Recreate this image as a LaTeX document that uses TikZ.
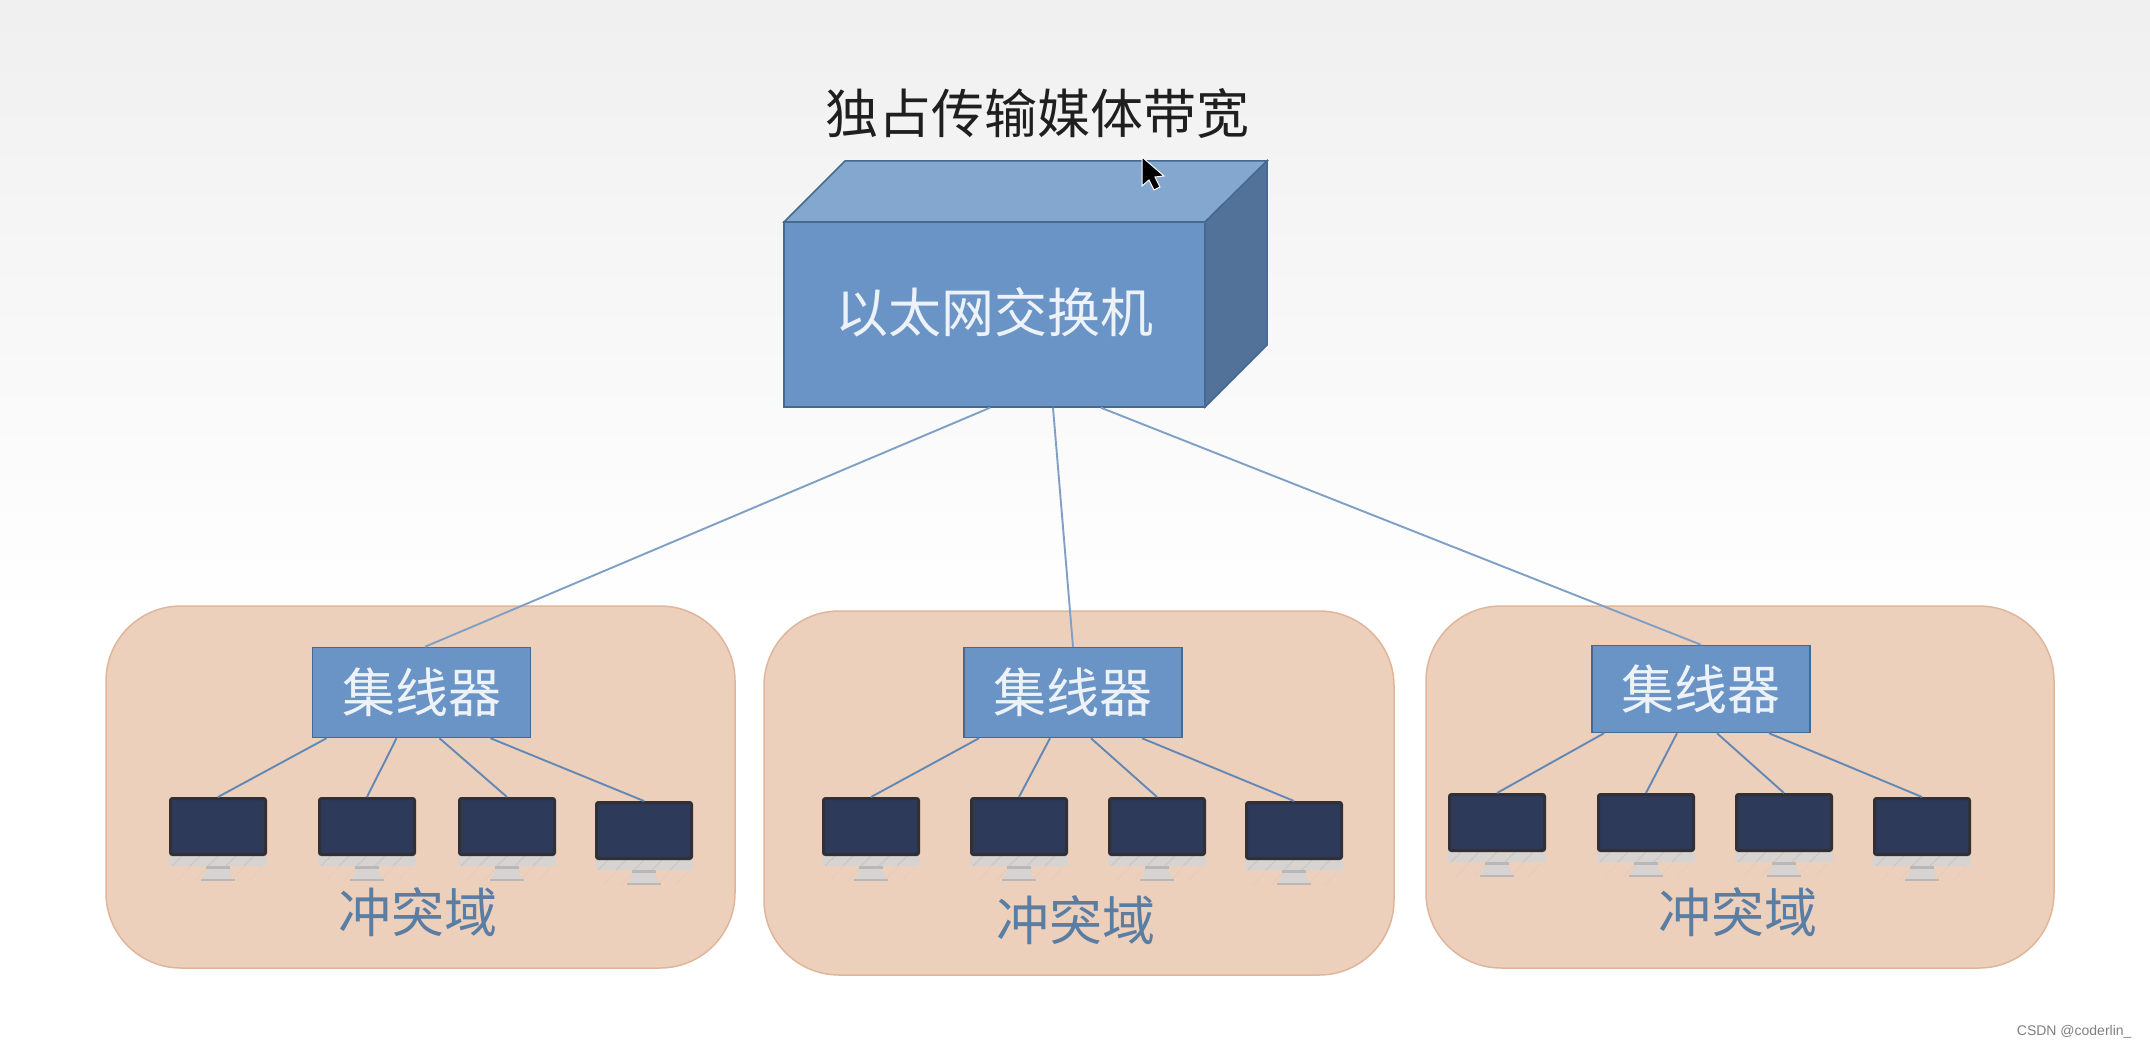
\documentclass[tikz,border=0pt]{standalone}
\usepackage{fontspec}
\newfontfamily\cjk{Noto Sans CJK SC}
\setsansfont{Liberation Sans}
\usepackage{tikz}

\definecolor{boxfront}{HTML}{6A94C6}
\definecolor{boxtop}{HTML}{84A7D0}
\definecolor{boxside}{HTML}{53729A}
\definecolor{boxline}{HTML}{46698F}
\definecolor{linkline}{HTML}{7F9FC6}
\definecolor{domfill}{HTML}{EDD0BC}
\definecolor{domline}{HTML}{DFB69A}
\definecolor{domtext}{HTML}{5A7DA3}
\definecolor{screenfill}{HTML}{2D3A5A}
\definecolor{screenline}{HTML}{303036}
\definecolor{chinfill}{HTML}{D6D3D1}
\definecolor{chinline}{HTML}{C8C5C3}

\tikzset{
	cntext/.style={font=\cjk\fontsize{53}{53}\selectfont},
	dombox/.style={draw=domline, line width=1.5pt, fill=domfill, rounded corners=75pt, minimum width=629pt, minimum height=362pt, inner sep=0pt},
	hubbox/.style={draw=boxline, line width=1.5pt, fill=boxfront, minimum width=218pt, minimum height=90pt, inner sep=0pt, cntext, text=white!88!boxfront},
	screenbox/.style={draw=screenline, line width=3pt, fill=screenfill, rounded corners=2pt, minimum width=95pt, minimum height=56pt, inner sep=0pt, anchor=north},
	toplink/.style={draw=linkline, line width=1.9pt},
	hublink/.style={draw=boxfront!92!black, line width=1.9pt}
}

\begin{document}
\begin{tikzpicture}[x=1pt, y=-1pt]
	\useasboundingbox (0,0) rectangle (2150,1048);

	% Background
	\fill[white] (0,0) rectangle (2150,1048);
	\shade[top color=black!6, bottom color=white] (0,0) rectangle (2150,620);

	% Title
	\node[cntext, text=black!88] (title) at (1037,113) {独占传输媒体带宽};

	% Switch
	\fill[boxtop, draw=boxline, line width=1.5pt] (784,222) -- (845,161) -- (1267,161) -- (1205,222) -- cycle;
	\fill[boxside, draw=boxline, line width=1.5pt] (1205,222) -- (1267,161) -- (1267,345) -- (1205,407) -- cycle;
	\node[draw=boxline, line width=1.5pt, fill=boxfront, minimum width=421pt, minimum height=185pt, inner sep=0pt] (switch) at (994.5,314.5) {};
	\node[cntext, text=white!88!boxfront] (switchlabel) at (994,312) {以太网交换机};

	% Collision domains
	\node[dombox] (domA) at (420.5,787) {};
	\node[dombox, minimum width=630pt, minimum height=364pt] (domB) at (1079,793) {};
	\node[dombox, minimum width=628pt] (domC) at (1740,787) {};
	\node[cntext, text=domtext] (domlabelA) at (418,912) {冲突域};
	\node[cntext, text=domtext] (domlabelB) at (1076,920) {冲突域};
	\node[cntext, text=domtext] (domlabelC) at (1738,912) {冲突域};

	% Hubs
	\node[hubbox] (hubA) at (421.5,692.5) {集线器};
	\node[hubbox] (hubB) at (1073,692.5) {集线器};
	\node[hubbox, minimum height=87pt] (hubC) at (1701,689) {集线器};

	% Links from switch to hubs
	\draw[toplink] ([xshift=-4.5pt]switch.south) -- ([xshift=3.5pt]hubA.north);
	\draw[toplink] ([xshift=58.5pt]switch.south) -- (hubB.north);
	\draw[toplink] ([xshift=106.5pt]switch.south) -- (hubC.north);

	% Monitors
	\foreach \name/\x/\y in {pcA1/218/797, pcA2/367/797, pcA3/507/797, pcA4/644/801,
		pcB1/871/797, pcB2/1019/797, pcB3/1157/797, pcB4/1294/801,
		pcC1/1497/793, pcC2/1646/793, pcC3/1784/793, pcC4/1922/797} {
		% Faint stripes under the chin
		\foreach \k in {-28,-10,8,26,44}
			\draw[chinline, line width=1pt, opacity=0.25] (\x+\k,\y+70) -- (\x+\k-13,\y+84);
		% Stand and chin
		\fill[chinfill] (\x-11,\y+70) -- (\x+11,\y+70) -- (\x+15,\y+83) -- (\x-15,\y+83) -- cycle;
		\fill[black!28] (\x-17,\y+82) rectangle (\x+17,\y+84);
		\fill[black!28] (\x-12,\y+69) rectangle (\x+12,\y+72);
		\fill[chinfill] (\x-49,\y+59) rectangle (\x+49,\y+69);
		\foreach \k in {-36,-18,...,36}
			\draw[chinline, line width=1pt] (\x+\k,\y+59) -- (\x+\k-10,\y+69);
		\node[screenbox] (\name) at (\x,\y) {};
	}

	% Links from hubs to monitors
	\foreach \from/\dx/\to in {hubA/-95/pcA1, hubA/-25/pcA2, hubA/18/pcA3, hubA/69/pcA4,
		hubB/-94/pcB1, hubB/-23/pcB2, hubB/18/pcB3, hubB/69/pcB4,
		hubC/-97/pcC1, hubC/-24/pcC2, hubC/16/pcC3, hubC/68/pcC4} {
		\draw[hublink] ([xshift=\dx pt]\from.south) -- (\to.north);
	}

	% Cursor
	\fill[black, draw=white, line width=1pt] (1142,157) -- (1142,186) -- (1149,180) -- (1154,190) -- (1160,187) -- (1155,177) -- (1164,176) -- cycle;

	% Watermark
	\node[font=\sffamily\fontsize{14}{14}\selectfont, text=black!50, anchor=east] (mark) at (2135,1032) {CSDN @coderlin\_};
\end{tikzpicture}
\end{document}
